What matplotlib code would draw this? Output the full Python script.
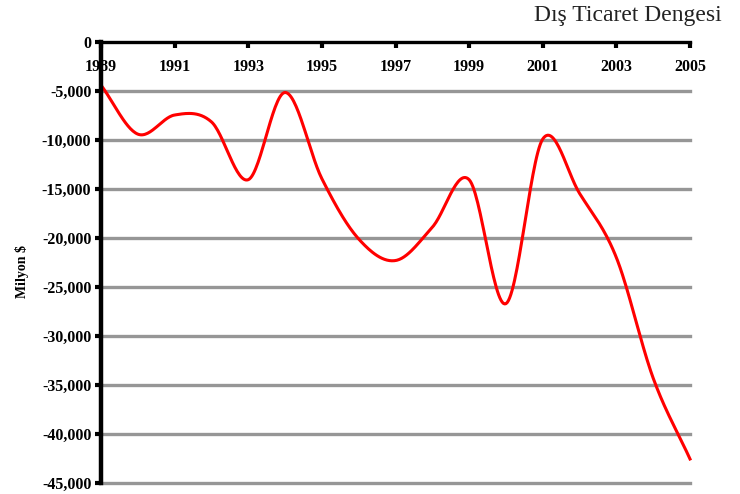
import numpy as np
import matplotlib.pyplot as plt
from matplotlib.ticker import FuncFormatter

years = [1989, 1990, 1991, 1992, 1993, 1994, 1995, 1996, 1997,
         1998, 1999, 2000, 2001, 2002, 2003, 2004, 2005]
balance = [-4400, -9400, -7450, -8150, -14050, -5150, -13950, -20100, -22300,
           -18900, -14050, -26700, -9900, -15450, -22000, -34300, -42550]
tick_years = [1989, 1991, 1993, 1995, 1997, 1999, 2001, 2003, 2005]
y_ticks = [0, -5000, -10000, -15000, -20000, -25000, -30000, -35000, -40000, -45000]


def smooth(x, y, n=30):
    # catmull-rom curve through the points, like excel's smoothed line
    x = np.asarray(x, float)
    y = np.asarray(y, float)
    px = np.concatenate([[2 * x[0] - x[1]], x, [2 * x[-1] - x[-2]]])
    py = np.concatenate([[2 * y[0] - y[1]], y, [2 * y[-1] - y[-2]]])
    xs, ys = [], []
    t = np.linspace(0, 1, n, endpoint=False)
    for i in range(1, len(px) - 2):
        for p, out in ((px, xs), (py, ys)):
            p0, p1, p2, p3 = p[i - 1], p[i], p[i + 1], p[i + 2]
            out.extend(0.5 * (2 * p1 + (-p0 + p2) * t
                              + (2 * p0 - 5 * p1 + 4 * p2 - p3) * t ** 2
                              + (-p0 + 3 * p1 - 3 * p2 + p3) * t ** 3))
    xs.append(x[-1])
    ys.append(y[-1])
    return xs, ys


plt.rcParams['font.family'] = 'Liberation Serif'

fig = plt.figure(figsize=(7.4, 4.94), dpi=100)
ax = fig.add_axes([101 / 740, 1 - 483 / 494, 589 / 740, 441 / 494])

for v in y_ticks[1:]:
    ax.axhline(v, color='#969696', lw=2.4, zorder=1, clip_on=False)

sx, sy = smooth(years, balance)
ax.plot(sx, sy, color='#ff0000', lw=2.2, zorder=3, clip_on=False)

ax.set_xlim(1989, 2005)
ax.set_ylim(-45000, 0)

for s in ['right', 'bottom']:
    ax.spines[s].set_visible(False)
ax.spines['left'].set_linewidth(3.2)
ax.spines['top'].set_linewidth(2.4)
ax.spines['left'].set_zorder(4)

ax.xaxis.tick_top()
ax.set_xticks(tick_years)
ax.set_xticklabels([str(y) for y in tick_years], fontweight='bold', fontsize=11.5)
ax.tick_params(axis='x', direction='in', length=4, width=3, pad=-24)

ax.set_yticks(y_ticks)
ax.yaxis.set_major_formatter(FuncFormatter(lambda v, p: f'{int(v):,}'))
ax.tick_params(axis='y', direction='out', length=4, width=3, pad=3)
for lab in ax.get_yticklabels():
    lab.set_fontweight('bold')
    lab.set_fontsize(11.5)

fig.text(22 / 740, 1 - 272 / 494, 'Milyon $', rotation=90, ha='center', va='center',
         fontsize=10, fontweight='bold')
fig.text(722 / 740, 1 - 15 / 494, 'Dış Ticaret Dengesi', ha='right', va='center',
         fontsize=17, color='#222222')

fig.savefig('out.png', dpi=100)
